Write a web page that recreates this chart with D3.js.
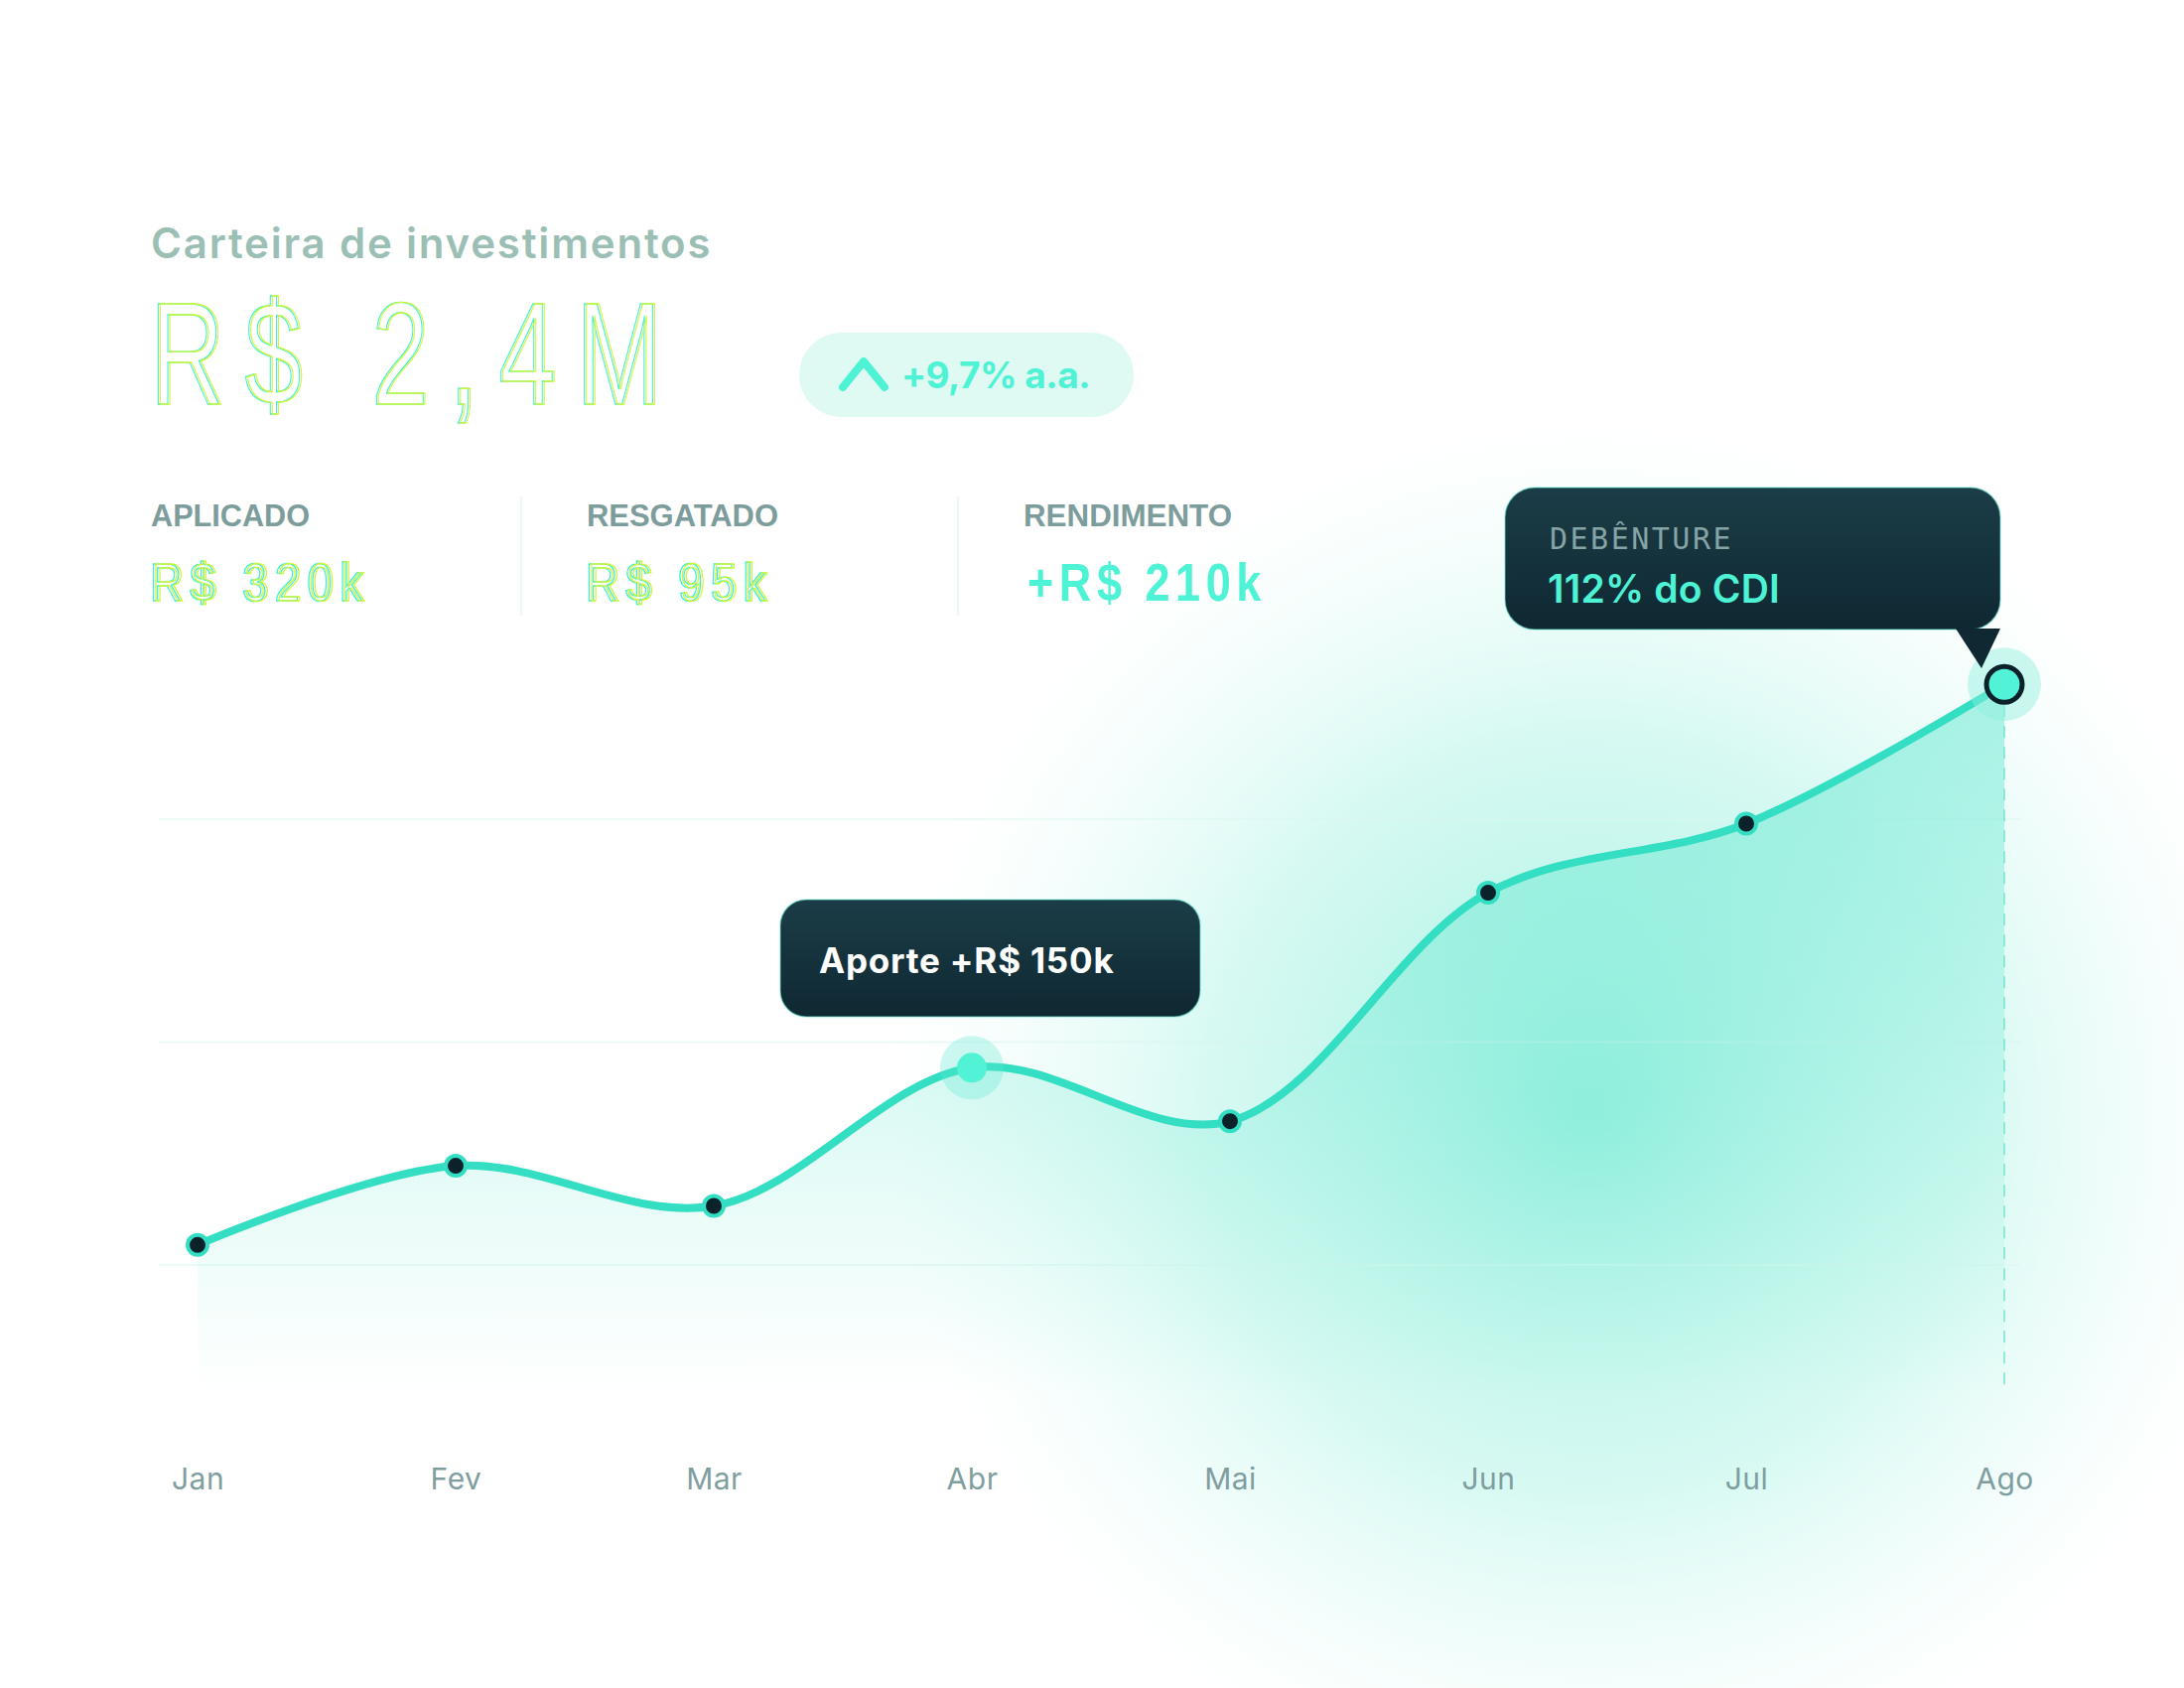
<!DOCTYPE html>
<html>
<head>
<meta charset="utf-8">
<script src="https://cdn.jsdelivr.net/npm/d3@7"></script>
<style>
  body { margin: 0; background: #ffffff; }
  svg { display: block; }
</style>
</head>
<body>
<div id="chart"></div>
<script>
// chart data
var months = ["Jan", "Fev", "Mar", "Abr", "Mai", "Jun", "Jul", "Ago"];
var values = [1.818, 1.889, 1.853, 1.977, 1.929, 2.134, 2.196, 2.321];
var gridTicks = [1.8, 2.0, 2.2];
var areaBase = 1.685;

// header texts
var statLabels = ["APLICADO", "RESGATADO", "RENDIMENTO"];
var statValues = ["R$ 320k", "R$ 95k", "+R$ 210k"];

var svgWidth = 2200;
var svgHeight = 1700;

var svg = d3.select("#chart")
  .append("svg")
  .attr("width", svgWidth)
  .attr("height", svgHeight);

var defs = svg.append("defs");

var glow = defs.append("radialGradient")
  .attr("id", "glow")
  .attr("gradientUnits", "userSpaceOnUse")
  .attr("cx", 1600).attr("cy", 1120).attr("r", 700);
glow.append("stop").attr("offset", "0").attr("stop-color", "#7eecd6").attr("stop-opacity", 0.75);
glow.append("stop").attr("offset", "0.55").attr("stop-color", "#a6f2e3").attr("stop-opacity", 0.45);
glow.append("stop").attr("offset", "1").attr("stop-color", "#d6faf3").attr("stop-opacity", 0);

var areaGrad = defs.append("linearGradient")
  .attr("id", "areaGrad")
  .attr("gradientUnits", "userSpaceOnUse")
  .attr("x1", 0).attr("y1", 680).attr("x2", 0).attr("y2", 1405);
areaGrad.append("stop").attr("offset", "0").attr("stop-color", "#45e3c6").attr("stop-opacity", 0.45);
areaGrad.append("stop").attr("offset", "1").attr("stop-color", "#45e3c6").attr("stop-opacity", 0);

var tipGrad = defs.append("linearGradient")
  .attr("id", "tipGrad")
  .attr("x1", 0).attr("y1", 0).attr("x2", 0).attr("y2", 1);
tipGrad.append("stop").attr("offset", "0").attr("stop-color", "#1b3d47");
tipGrad.append("stop").attr("offset", "1").attr("stop-color", "#0f2832");

// background glow
svg.append("rect")
  .attr("width", svgWidth)
  .attr("height", svgHeight)
  .attr("fill", "#ffffff");
svg.append("rect")
  .attr("width", svgWidth)
  .attr("height", svgHeight)
  .attr("fill", "url(#glow)");

// scales
var xScale = d3.scalePoint()
  .domain(months)
  .range([199, 2019]);

var yScale = d3.scaleLinear()
  .domain([1.8, 2.2])
  .range([1274, 825]);

// grid lines
svg.append("g")
  .selectAll("line")
  .data(gridTicks)
  .join("line")
  .attr("x1", 160)
  .attr("x2", 2035)
  .attr("y1", d => yScale(d))
  .attr("y2", d => yScale(d))
  .attr("stroke", "#d9f6ef")
  .attr("stroke-opacity", 0.5)
  .attr("stroke-width", 2);

var curve = d3.curveCatmullRom.alpha(0.5);

var area = d3.area()
  .x((d, i) => xScale(months[i]))
  .y0(yScale(areaBase))
  .y1(d => yScale(d))
  .curve(curve);

var line = d3.line()
  .x((d, i) => xScale(months[i]))
  .y(d => yScale(d))
  .curve(curve);

svg.append("path")
  .datum(values)
  .attr("d", area)
  .attr("fill", "url(#areaGrad)");

// dashed marker under last point
var last = values.length - 1;
svg.append("line")
  .attr("x1", xScale(months[last]))
  .attr("x2", xScale(months[last]))
  .attr("y1", yScale(values[last]))
  .attr("y2", yScale(areaBase))
  .attr("stroke", "#6fe3cc")
  .attr("stroke-opacity", 0.7)
  .attr("stroke-width", 2)
  .attr("stroke-dasharray", "12 9");

svg.append("path")
  .datum(values)
  .attr("d", line)
  .attr("fill", "none")
  .attr("stroke", "#34dec3")
  .attr("stroke-width", 8)
  .attr("stroke-linecap", "round");

// regular points
var plain = values.map((v, i) => i).filter(i => i !== 3 && i !== last);
svg.append("g")
  .selectAll("circle")
  .data(plain)
  .join("circle")
  .attr("cx", i => xScale(months[i]))
  .attr("cy", i => yScale(values[i]))
  .attr("r", 10)
  .attr("fill", "#0c222b")
  .attr("stroke", "#34dec3")
  .attr("stroke-width", 4);

// highlighted Abr point
svg.append("circle")
  .attr("cx", xScale(months[3]))
  .attr("cy", yScale(values[3]))
  .attr("r", 32)
  .attr("fill", "#5ae8cf")
  .attr("fill-opacity", 0.3);
svg.append("circle")
  .attr("cx", xScale(months[3]))
  .attr("cy", yScale(values[3]))
  .attr("r", 15)
  .attr("fill", "#52f2d6");

// highlighted last point
svg.append("circle")
  .attr("cx", xScale(months[last]))
  .attr("cy", yScale(values[last]))
  .attr("r", 37)
  .attr("fill", "#8ef0dd")
  .attr("fill-opacity", 0.45);
svg.append("circle")
  .attr("cx", xScale(months[last]))
  .attr("cy", yScale(values[last]))
  .attr("r", 18)
  .attr("fill", "#52f2d6")
  .attr("stroke", "#0c222b")
  .attr("stroke-width", 5);

// x axis labels
var xAxis = d3.axisBottom(xScale).tickSize(0).tickPadding(0);
var xAxisG = svg.append("g")
  .attr("transform", "translate(0,1479)")
  .call(xAxis);
xAxisG.select(".domain").remove();
xAxisG.selectAll("text")
  .attr("font-family", "Inter, 'Noto Sans', sans-serif")
  .attr("font-size", 30)
  .attr("letter-spacing", 0.5)
  .attr("fill", "#7f9ea0");

// tooltip: Aporte
svg.append("rect")
  .attr("x", 786).attr("y", 906)
  .attr("width", 423).attr("height", 118)
  .attr("rx", 26)
  .attr("fill", "url(#tipGrad)")
  .attr("stroke", "#5fe6cf")
  .attr("stroke-opacity", 0.5)
  .attr("stroke-width", 1.5);
svg.append("text")
  .attr("x", 825).attr("y", 980)
  .attr("font-family", "Inter, sans-serif")
  .attr("font-weight", 700)
  .attr("font-size", 35)
  .attr("letter-spacing", 0.8)
  .attr("fill", "#ffffff")
  .text("Aporte +R$ 150k");

// tooltip: Debênture
svg.append("rect")
  .attr("x", 1516).attr("y", 491)
  .attr("width", 499).attr("height", 143)
  .attr("rx", 30)
  .attr("fill", "url(#tipGrad)")
  .attr("stroke", "#5fe6cf")
  .attr("stroke-opacity", 0.5)
  .attr("stroke-width", 1.5);
svg.append("path")
  .attr("d", "M1970,633 L2015,633 L1996,673 Z")
  .attr("fill", "#0f2832");
svg.append("text")
  .attr("x", 1561).attr("y", 553)
  .attr("font-family", "'DejaVu Sans Mono', monospace")
  .attr("font-size", 30)
  .attr("letter-spacing", 2.5)
  .attr("fill", "#86a3a5")
  .text("DEBÊNTURE");
svg.append("text")
  .attr("x", 1559).attr("y", 607)
  .attr("font-family", "Inter, sans-serif")
  .attr("font-weight", 600)
  .attr("font-size", 39)
  .attr("letter-spacing", 0.2)
  .attr("fill", "#4ef2d4")
  .text("112% do CDI");

// header
svg.append("text")
  .attr("x", 152).attr("y", 260)
  .attr("font-family", "Inter, sans-serif")
  .attr("font-weight", 600)
  .attr("font-size", 42)
  .attr("letter-spacing", 1.8)
  .attr("fill", "#9cbfb5")
  .text("Carteira de investimentos");

// outlined, horizontally condensed text with a cyan/lime double stroke
function outlineText(x, y, size, sx, spacing, str) {
  var g = svg.append("g")
    .attr("transform", "translate(" + x + "," + y + ") scale(" + sx + ",1)");
  [["#3df0d8", -1.4], ["#d2f53c", 1.4]].forEach(function(c) {
    g.append("text")
      .attr("x", c[1]).attr("y", 0)
      .attr("font-family", "'Liberation Sans', Arimo, sans-serif")
      .attr("font-size", size)
      .attr("letter-spacing", spacing)
      .attr("fill", "none")
      .attr("stroke", c[0])
      .attr("stroke-width", 1.4)
      .text(str);
  });
  return g;
}

outlineText(152, 407, 147, 0.7, 30, "R$ 2,4M");

// growth pill
svg.append("rect")
  .attr("x", 805).attr("y", 335)
  .attr("width", 337).attr("height", 85)
  .attr("rx", 42.5)
  .attr("fill", "#dff9f3");
svg.append("path")
  .attr("d", "M849,390 L870,364 L891,390")
  .attr("fill", "none")
  .attr("stroke", "#4ef2d4")
  .attr("stroke-width", 8)
  .attr("stroke-linecap", "round")
  .attr("stroke-linejoin", "round");
svg.append("text")
  .attr("x", 908).attr("y", 391)
  .attr("font-family", "Inter, sans-serif")
  .attr("font-weight", 700)
  .attr("font-size", 37)
  .attr("letter-spacing", -0.5)
  .attr("fill", "#4ef2d4")
  .text("+9,7% a.a.");

// stats row
var statX = [152, 591, 1031];
var statW = [160, 193, 210];
svg.append("g")
  .selectAll("text")
  .data(statLabels)
  .join("text")
  .attr("x", (d, i) => statX[i])
  .attr("y", 530)
  .attr("font-family", "'Liberation Sans', sans-serif")
  .attr("font-weight", 700)
  .attr("font-size", 31)
  .attr("textLength", (d, i) => statW[i])
  .attr("lengthAdjust", "spacingAndGlyphs")
  .attr("fill", "#7d9c9c")
  .text(d => d);

outlineText(152, 605, 53, 0.85, 9, statValues[0]);
outlineText(591, 605, 53, 0.85, 9, statValues[1]);
svg.append("g")
  .attr("transform", "translate(1035,605) scale(0.85,1)")
  .append("text")
  .attr("font-family", "'Liberation Sans', sans-serif")
  .attr("font-weight", 700)
  .attr("font-size", 53)
  .attr("letter-spacing", 6.5)
  .attr("fill", "#4ef2d4")
  .text(statValues[2]);

svg.append("g")
  .selectAll("line")
  .data([525, 965])
  .join("line")
  .attr("x1", d => d).attr("x2", d => d)
  .attr("y1", 500).attr("y2", 620)
  .attr("stroke", "#eaf7f4")
  .attr("stroke-width", 2);
</script>
</body>
</html>
